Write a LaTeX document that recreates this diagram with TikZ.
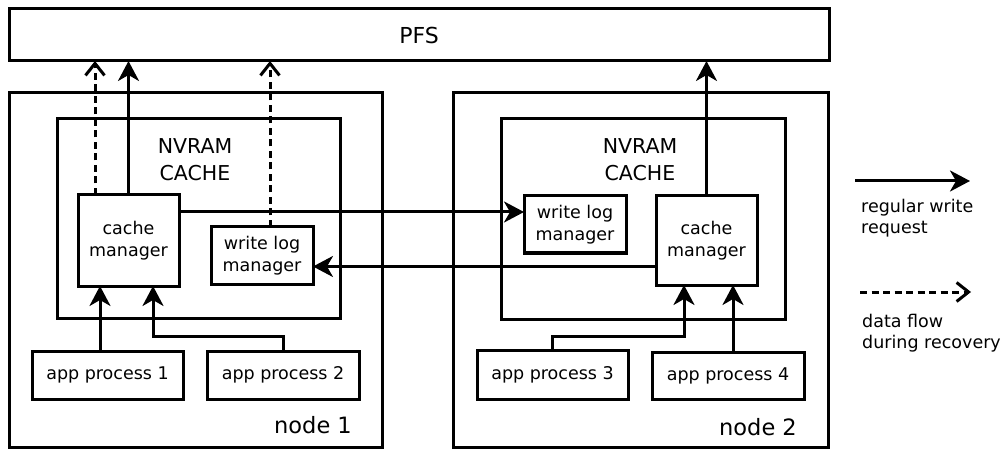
\documentclass[tikz,border=0pt]{standalone}
\usepackage{fontspec}
\setmainfont{DejaVu Sans}
\usetikzlibrary{arrows.meta}
\tikzset{
  frame/.style={draw, line width=3pt, inner sep=0pt, outer sep=0pt},
  boxtext/.style={align=center, font=\fontsize{17.5}{22}\selectfont},
  bigtext/.style={align=center, font=\fontsize{20.5}{27}\selectfont},
  nodelabel/.style={font=\fontsize{22.5}{27}\selectfont},
  legtext/.style={align=left, anchor=west, inner sep=0pt, font=\fontsize{17.5}{21.5}\selectfont},
  flow/.style={line width=3pt, -{Stealth[length=20pt, width=21pt, inset=6pt]}},
  dflow/.style={line width=3pt, dash pattern=on 7pt off 4.5pt, -{Straight Barb[length=12pt, width=19pt, line width=3pt]}},
}
\begin{document}
\begin{tikzpicture}[x=1pt, y=-1pt]
\useasboundingbox (0,0) rectangle (1004,449);

% parallel file system
\node[frame, minimum width=820pt, minimum height=52pt, font=\fontsize{22}{27}\selectfont] (pfs) at (419,35) {PFS};

% compute node 1
\node[frame, minimum width=373pt, minimum height=354pt] (outer1) at (195.5,270) {};
\node[frame, minimum width=283pt, minimum height=199pt] (nv1) at (198.5,218.5) {};
\node[bigtext] (nvt1) at (195,160) {NVRAM\\CACHE};
\node[frame, minimum width=101pt, minimum height=91pt, boxtext] (cm1) at (128.5,240.5) {cache\\manager};
\node[frame, minimum width=102pt, minimum height=57pt, boxtext] (wl1) at (262,255.5) {write log\\manager};
\node[frame, minimum width=151pt, minimum height=48pt, boxtext] (app1) at (107.5,375) {app process 1};
\node[frame, minimum width=152pt, minimum height=48pt, boxtext] (app2) at (283,375) {app process 2};
\node[nodelabel] (lab1) at (313,425) {node 1};

% compute node 2
\node[frame, minimum width=375pt, minimum height=354pt] (outer2) at (640.5,270) {};
\node[frame, minimum width=284pt, minimum height=200pt] (nv2) at (643,219) {};
\node[bigtext] (nvt2) at (640,160) {NVRAM\\CACHE};
\node[frame, minimum width=102pt, minimum height=57pt, boxtext] (wl2) at (575,224.5) {write log\\manager};
\node[frame, minimum width=101pt, minimum height=89pt, boxtext] (cm2) at (706.5,240.5) {cache\\manager};
\node[frame, minimum width=151pt, minimum height=49pt, boxtext] (app3) at (552.5,374.5) {app process 3};
\node[frame, minimum width=152pt, minimum height=47pt, boxtext] (app4) at (728,375.5) {app process 4};
\node[nodelabel] (lab2) at (758,427) {node 2};

% write-back and recovery paths to the PFS
\draw[dflow] ([xshift=-33.5pt]cm1.north) -- ([xshift=-33.5pt]cm1.north |- pfs.south);
\draw[flow] (cm1.north) -- (cm1.north |- pfs.south);
\draw[dflow] ([xshift=8pt]wl1.north) -- ([xshift=8pt]wl1.north |- pfs.south);
\draw[flow] (cm2.north) -- (cm2.north |- pfs.south);

% application writes
\draw[flow] ([xshift=-7.5pt]app1.north) -- ([xshift=-7.5pt]app1.north |- cm1.south);
\draw[flow] (app2.north) -- ++(0,-15) -| ([xshift=24.5pt]cm1.south);
\draw[flow] (app3.north) -- ++(0,-14) -| ([xshift=-22.5pt]cm2.south);
\draw[flow] ([xshift=5pt]app4.north) -- ([xshift=5pt]app4.north |- cm2.south);

% log replication between nodes
\draw[flow] ([yshift=28.5pt]cm1.east) -- ([yshift=28.5pt]cm1.east -| wl2.west);
\draw[flow] ([yshift=-26pt]cm2.west) -- ([yshift=-26pt]cm2.west -| wl1.east);

% legend
\coordinate (la) at (855,181);
\coordinate (lb) at (970,181);
\coordinate (lc) at (860,292);
\coordinate (ld) at (971,292);
\draw[flow] (la) -- (lb);
\node[legtext] (lt1) at (861,218) {regular write\\request};
\draw[dflow] (lc) -- (ld);
\node[legtext] (lt2) at (862,333) {data flow\\during recovery};
\end{tikzpicture}
\end{document}
